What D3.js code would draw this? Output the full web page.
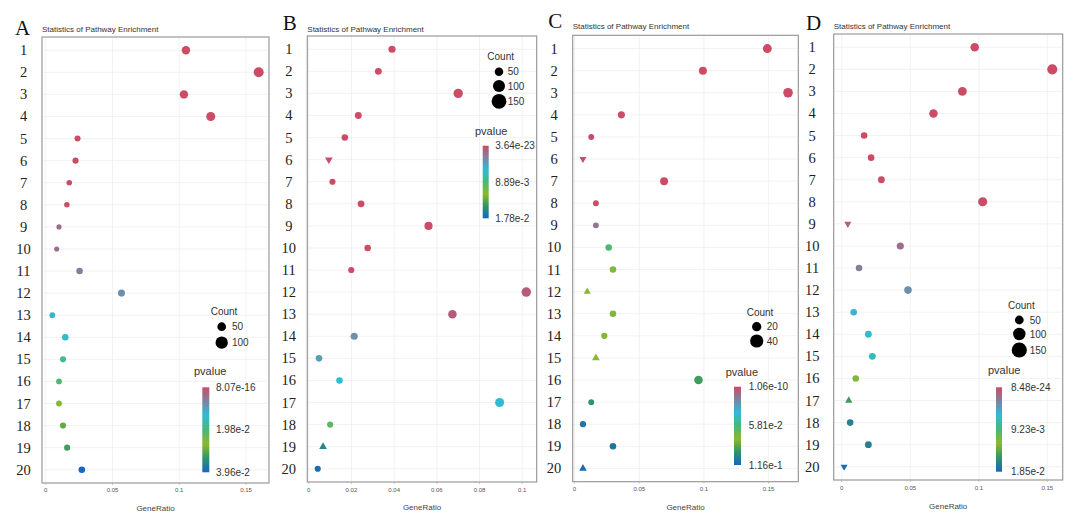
<!DOCTYPE html>
<html><head><meta charset="utf-8">
<script src="https://cdn.jsdelivr.net/npm/d3@7"></script>
<style>body{margin:0;background:#fff} svg{display:block}</style>
</head><body><svg id="chart" width="1087" height="520"></svg>
<script>
// ---------- DATA ----------
const categories = ["1","2","3","4","5","6","7","8","9","10","11","12","13","14","15","16","17","18","19","20"];

// Panel A
const ratioA = [0.105,0.1595,0.1035,0.1236,0.0238,0.0223,0.0176,0.0158,0.0099,0.0082,0.0253,0.0567,0.0049,0.0146,0.0129,0.0099,0.0099,0.0129,0.016,0.027];
const countA = [78,110,78,90,41,41,34,34,29,29,47,55,37,47,41,37,37,41,41,47];
const pvalA  = [8.07e-16,2.1e-14,5e-12,1e-10,3e-8,2e-7,5e-6,1e-4,0.004,0.0042,0.0059,0.0079,0.0127,0.0139,0.0178,0.0206,0.0253,0.0293,0.0317,0.0396];
const shapeA = ["o","o","o","o","o","o","o","o","o","o","o","o","o","o","o","o","o","o","o","o"];
const xTicksA = [0,0.05,0.1,0.15];
const xTickLabelsA = ["0","0.05","0.1","0.15"];
const countLegendA = [50,100];
const pLabelsA = ["8.07e-16","1.98e-2","3.96e-2"];
const pRangeA = [8.07e-16,3.96e-2];

// Panel B
const ratioB = [0.039,0.0326,0.070,0.0232,0.0169,0.0094,0.0111,0.0245,0.0561,0.0276,0.0199,0.1019,0.0673,0.0213,0.0048,0.0144,0.0894,0.010,0.0067,0.0042];
const countB = [91,83,155,83,76,91,67,83,117,76,67,160,129,91,76,76,147,67,91,67];
const pvalB  = [3.64e-23,1e-20,1e-18,1e-16,1e-14,1e-12,1e-10,1e-9,1e-8,1e-7,1e-5,0.0009,0.0009,0.0036,0.0043,0.0059,0.006,0.0098,0.0157,0.0173];
const shapeB = ["o","o","o","o","o","v","o","o","o","o","o","o","o","o","o","o","o","o","^","o"];
const xTicksB = [0,0.02,0.04,0.06,0.08,0.1];
const xTickLabelsB = ["0","0.02","0.04","0.06","0.08","0.1"];
const countLegendB = [50,100,150];
const pLabelsB = ["3.64e-23","8.89e-3","1.78e-2"];
const pRangeB = [3.64e-23,1.78e-2];

// Panel C
const ratioC = [0.149,0.0992,0.165,0.0362,0.0129,0.0065,0.0692,0.0165,0.0165,0.0264,0.0297,0.0098,0.0297,0.023,0.0165,0.0958,0.0129,0.0065,0.0297,0.0065];
const countC = [39,31,45,25,17,21,31,17,17,21,21,21,21,19,25,36,17,19,21,25];
const pvalC  = [1.06e-10,1e-9,1e-8,1e-7,1e-6,1e-5,1e-4,0.001,0.014,0.060,0.074,0.074,0.074,0.079,0.077,0.093,0.097,0.109,0.109,0.1125];
const shapeC = ["o","o","o","o","o","v","o","o","o","o","o","^","o","o","^","o","o","o","o","^"];
const xTicksC = [0,0.05,0.1,0.15];
const xTickLabelsC = ["0","0.05","0.1","0.15"];
const countLegendC = [20,40];
const pLabelsC = ["1.06e-10","5.81e-2","1.16e-1"];
const pRangeC = [1.06e-10,1.16e-1];

// Panel D
const ratioD = [0.097,0.1536,0.088,0.0669,0.0163,0.0214,0.0289,0.1028,0.0044,0.0427,0.0126,0.0483,0.0087,0.0194,0.0223,0.0102,0.0051,0.0061,0.0194,0.0017];
const countD = [118,165,126,118,70,70,76,135,70,83,70,92,70,76,76,70,76,70,76,70];
const pvalD  = [8.48e-24,1e-21,1e-19,1e-17,1e-15,1e-13,1e-11,1e-9,0.0009,0.0019,0.0028,0.0037,0.0059,0.0065,0.0068,0.0118,0.0148,0.0167,0.0167,0.018];
const shapeD = ["o","o","o","o","o","o","o","o","v","o","o","o","o","o","o","o","^","o","o","v"];
const xTicksD = [0,0.05,0.1,0.15];
const xTickLabelsD = ["0","0.05","0.1","0.15"];
const countLegendD = [50,100,150];
const pLabelsD = ["8.48e-24","9.23e-3","1.85e-2"];
const pRangeD = [8.48e-24,1.85e-2];

const colorStops = ["#cc4c66","#7c84a2","#2dbcd6","#47b87a","#8db82c","#2f9468","#1566c0"];

// ---------- LAYOUT ----------
const panels = [
  {letter:"A", ratio:ratioA, count:countA, pval:pvalA, shape:shapeA, ticks:xTicksA, tickLabels:xTickLabelsA,
   cLeg:countLegendA, pLabels:pLabelsA, pRange:pRangeA,
   box:[42,37,269,483], letterPos:[15,34.5], titleY:32, rowLabelDX:-18.5, tickY:492, axisTitleY:510.5,
   rMax:5.0, legRMax:6.15,
   leg:{countX:210.7,countY:315, cx:221.7, cys:[326.7,342.7], lx:232, pX:194, pY:375, bar:[202.3,387.3,7,85], blx:216}},
  {letter:"B", ratio:ratioB, count:countB, pval:pvalB, shape:shapeB, ticks:xTicksB, tickLabels:xTickLabelsB,
   cLeg:countLegendB, pLabels:pLabelsB, pRange:pRangeB,
   box:[307.3,36,536.7,482], letterPos:[282.7,29.5], titleY:31.7, rowLabelDX:-18.5, tickY:491.5, axisTitleY:510,
   rMax:4.75, legRMax:7.4,
   leg:{countX:487.3,countY:60, cx:499, cys:[71.7,86,101.3], lx:507.7, pX:475, pY:135, bar:[482.7,145.7,6,72.6], blx:495.3}},
  {letter:"C", ratio:ratioC, count:countC, pval:pvalC, shape:shapeC, ticks:xTicksC, tickLabels:xTickLabelsC,
   cLeg:countLegendC, pLabels:pLabelsC, pRange:pRangeC,
   box:[572.7,35.3,798.3,481.7], letterPos:[548.3,28.2], titleY:29.4, rowLabelDX:-18.7, tickY:491, axisTitleY:509.5,
   rMax:4.8, legRMax:6.6,
   leg:{countX:746.7,countY:316, cx:756.7, cys:[326.7,341], lx:766.7, pX:725.7, pY:375.5, bar:[734,386.7,7,78.3], blx:748.7}},
  {letter:"D", ratio:ratioD, count:countD, pval:pvalD, shape:shapeD, ticks:xTicksD, tickLabels:xTickLabelsD,
   cLeg:countLegendD, pLabels:pLabelsD, pRange:pRangeD,
   box:[833.7,34,1062.7,480], letterPos:[806,30], titleY:28.7, rowLabelDX:-21.5, tickY:490, axisTitleY:509,
   rMax:5.05, legRMax:7.6,
   leg:{countX:1008,countY:308.5, cx:1019.3, cys:[320,334,350], lx:1029.7, pX:988, pY:374, bar:[996,387.3,6,84.4], blx:1011}}
];

const svg = d3.select("#chart");
const defs = svg.append("defs");
const sans = "'Liberation Sans', Arial, sans-serif";
const serif = "'Liberation Serif', 'Times New Roman', serif";

// gradient for colorbars (top = smallest p)
const grad = defs.append("linearGradient").attr("id","pgrad").attr("x1",0).attr("y1",0).attr("x2",0).attr("y2",1);
colorStops.forEach((c,i)=>grad.append("stop").attr("offset",(i/(colorStops.length-1)*100)+"%").attr("stop-color",c));

panels.forEach(p=>{
  const [bx0,by0,bx1,by1] = p.box;
  const g = svg.append("g");
  // x domain like ggplot: data extent expanded by 5%
  const ext = d3.extent(p.ratio);
  const pad = (ext[1]-ext[0])*0.05;
  const x = d3.scaleLinear().domain([ext[0]-pad, ext[1]+pad]).range([bx0,bx1]);
  const y = d3.scalePoint().domain(categories).range([by0,by1]).padding(0.6);
  const pMin = p.pRange[0], pMax = p.pRange[1];
  const color = d3.scaleLinear()
    .domain(colorStops.map((_,i)=>pMin + i/(colorStops.length-1)*(pMax-pMin)))
    .range(colorStops).clamp(true);
  const r = d3.scaleSqrt().domain([0,d3.max(p.count)]).range([0,p.rMax]);
  const rl = d3.scaleSqrt().domain([0,d3.max(p.cLeg)]).range([0,p.legRMax]);

  // background + grid
  g.append("rect").attr("x",bx0).attr("y",by0).attr("width",bx1-bx0).attr("height",by1-by0).attr("fill","#fff");
  g.selectAll(".hg").data(categories).join("line")
    .attr("x1",bx0).attr("x2",bx1).attr("y1",d=>y(d)).attr("y2",d=>y(d))
    .attr("stroke","#ededed").attr("stroke-width",0.7);
  g.selectAll(".vg").data(p.ticks).join("line")
    .attr("x1",d=>x(d)).attr("x2",d=>x(d)).attr("y1",by0).attr("y2",by1)
    .attr("stroke","#ededed").attr("stroke-width",0.7);

  // points
  p.ratio.forEach((v,i)=>{
    const cx = x(v), cy = y(categories[i]), rr = r(p.count[i]), col = color(p.pval[i]);
    if (p.shape[i]==="o") {
      g.append("circle").attr("cx",cx).attr("cy",cy).attr("r",rr).attr("fill",col);
    } else {
      g.append("path")
        .attr("d", d3.symbol().type(d3.symbolTriangle).size(rr*rr*2.0)())
        .attr("transform",`translate(${cx},${cy})` + (p.shape[i]==="v" ? " rotate(180)" : ""))
        .attr("fill",col);
    }
  });

  // box
  g.append("rect").attr("x",bx0).attr("y",by0).attr("width",bx1-bx0).attr("height",by1-by0)
    .attr("fill","none").attr("stroke","#9a9a9a").attr("stroke-width",1.2);

  // x ticks
  g.selectAll(".xt").data(p.ticks).join("line")
    .attr("x1",d=>x(d)).attr("x2",d=>x(d)).attr("y1",by1).attr("y2",by1+2)
    .attr("stroke","#aaa").attr("stroke-width",0.6);
  g.selectAll(".xl").data(p.ticks).join("text")
    .attr("x",d=>x(d)).attr("y",p.tickY).attr("text-anchor","middle")
    .attr("font-family",sans).attr("font-size",6).attr("fill","#555")
    .text((d,i)=>p.tickLabels[i]);
  g.append("text").attr("x",(bx0+bx1)/2).attr("y",p.axisTitleY).attr("text-anchor","middle")
    .attr("font-family",sans).attr("font-size",8).attr("fill","#444").text("GeneRatio");

  // row labels
  g.selectAll(".yl").data(categories).join("text")
    .attr("x",bx0+p.rowLabelDX).attr("y",d=>y(d)+5).attr("text-anchor","middle")
    .attr("font-family",serif).attr("font-size",14.5).attr("fill","#222").text(d=>d);

  // title & letter
  g.append("text").attr("x",bx0).attr("y",p.titleY).attr("font-family",sans).attr("font-size",8)
    .attr("fill","#333").text("Statistics of Pathway Enrichment");
  g.append("text").attr("x",p.letterPos[0]).attr("y",p.letterPos[1]).attr("font-family",serif)
    .attr("font-size",21).attr("fill","#111").text(p.letter);

  // count legend
  const L = p.leg;
  g.append("text").attr("x",L.countX).attr("y",L.countY).attr("font-family",sans).attr("font-size",10)
    .attr("fill","#333").text("Count");
  p.cLeg.forEach((v,i)=>{
    g.append("circle").attr("cx",L.cx).attr("cy",L.cys[i]).attr("r",rl(v)).attr("fill","#000");
    g.append("text").attr("x",L.lx).attr("y",L.cys[i]+3.5).attr("font-family",sans).attr("font-size",10)
      .attr("fill","#333").text(v);
  });

  // pvalue colorbar
  g.append("text").attr("x",L.pX).attr("y",L.pY).attr("font-family",sans).attr("font-size",11)
    .attr("fill","#333").text("pvalue");
  const [cbx,cby,cbw,cbh] = L.bar;
  g.append("rect").attr("x",cbx).attr("y",cby).attr("width",cbw).attr("height",cbh).attr("fill","url(#pgrad)");
  const barScale = d3.scaleLinear().domain([0,p.pLabels.length-1]).range([cby,cby+cbh]);
  p.pLabels.forEach((t,i)=>{
    g.append("text").attr("x",L.blx).attr("y",barScale(i)+3.6).attr("font-family",sans).attr("font-size",10)
      .attr("fill","#333").text(t);
  });
});
</script></body></html>
